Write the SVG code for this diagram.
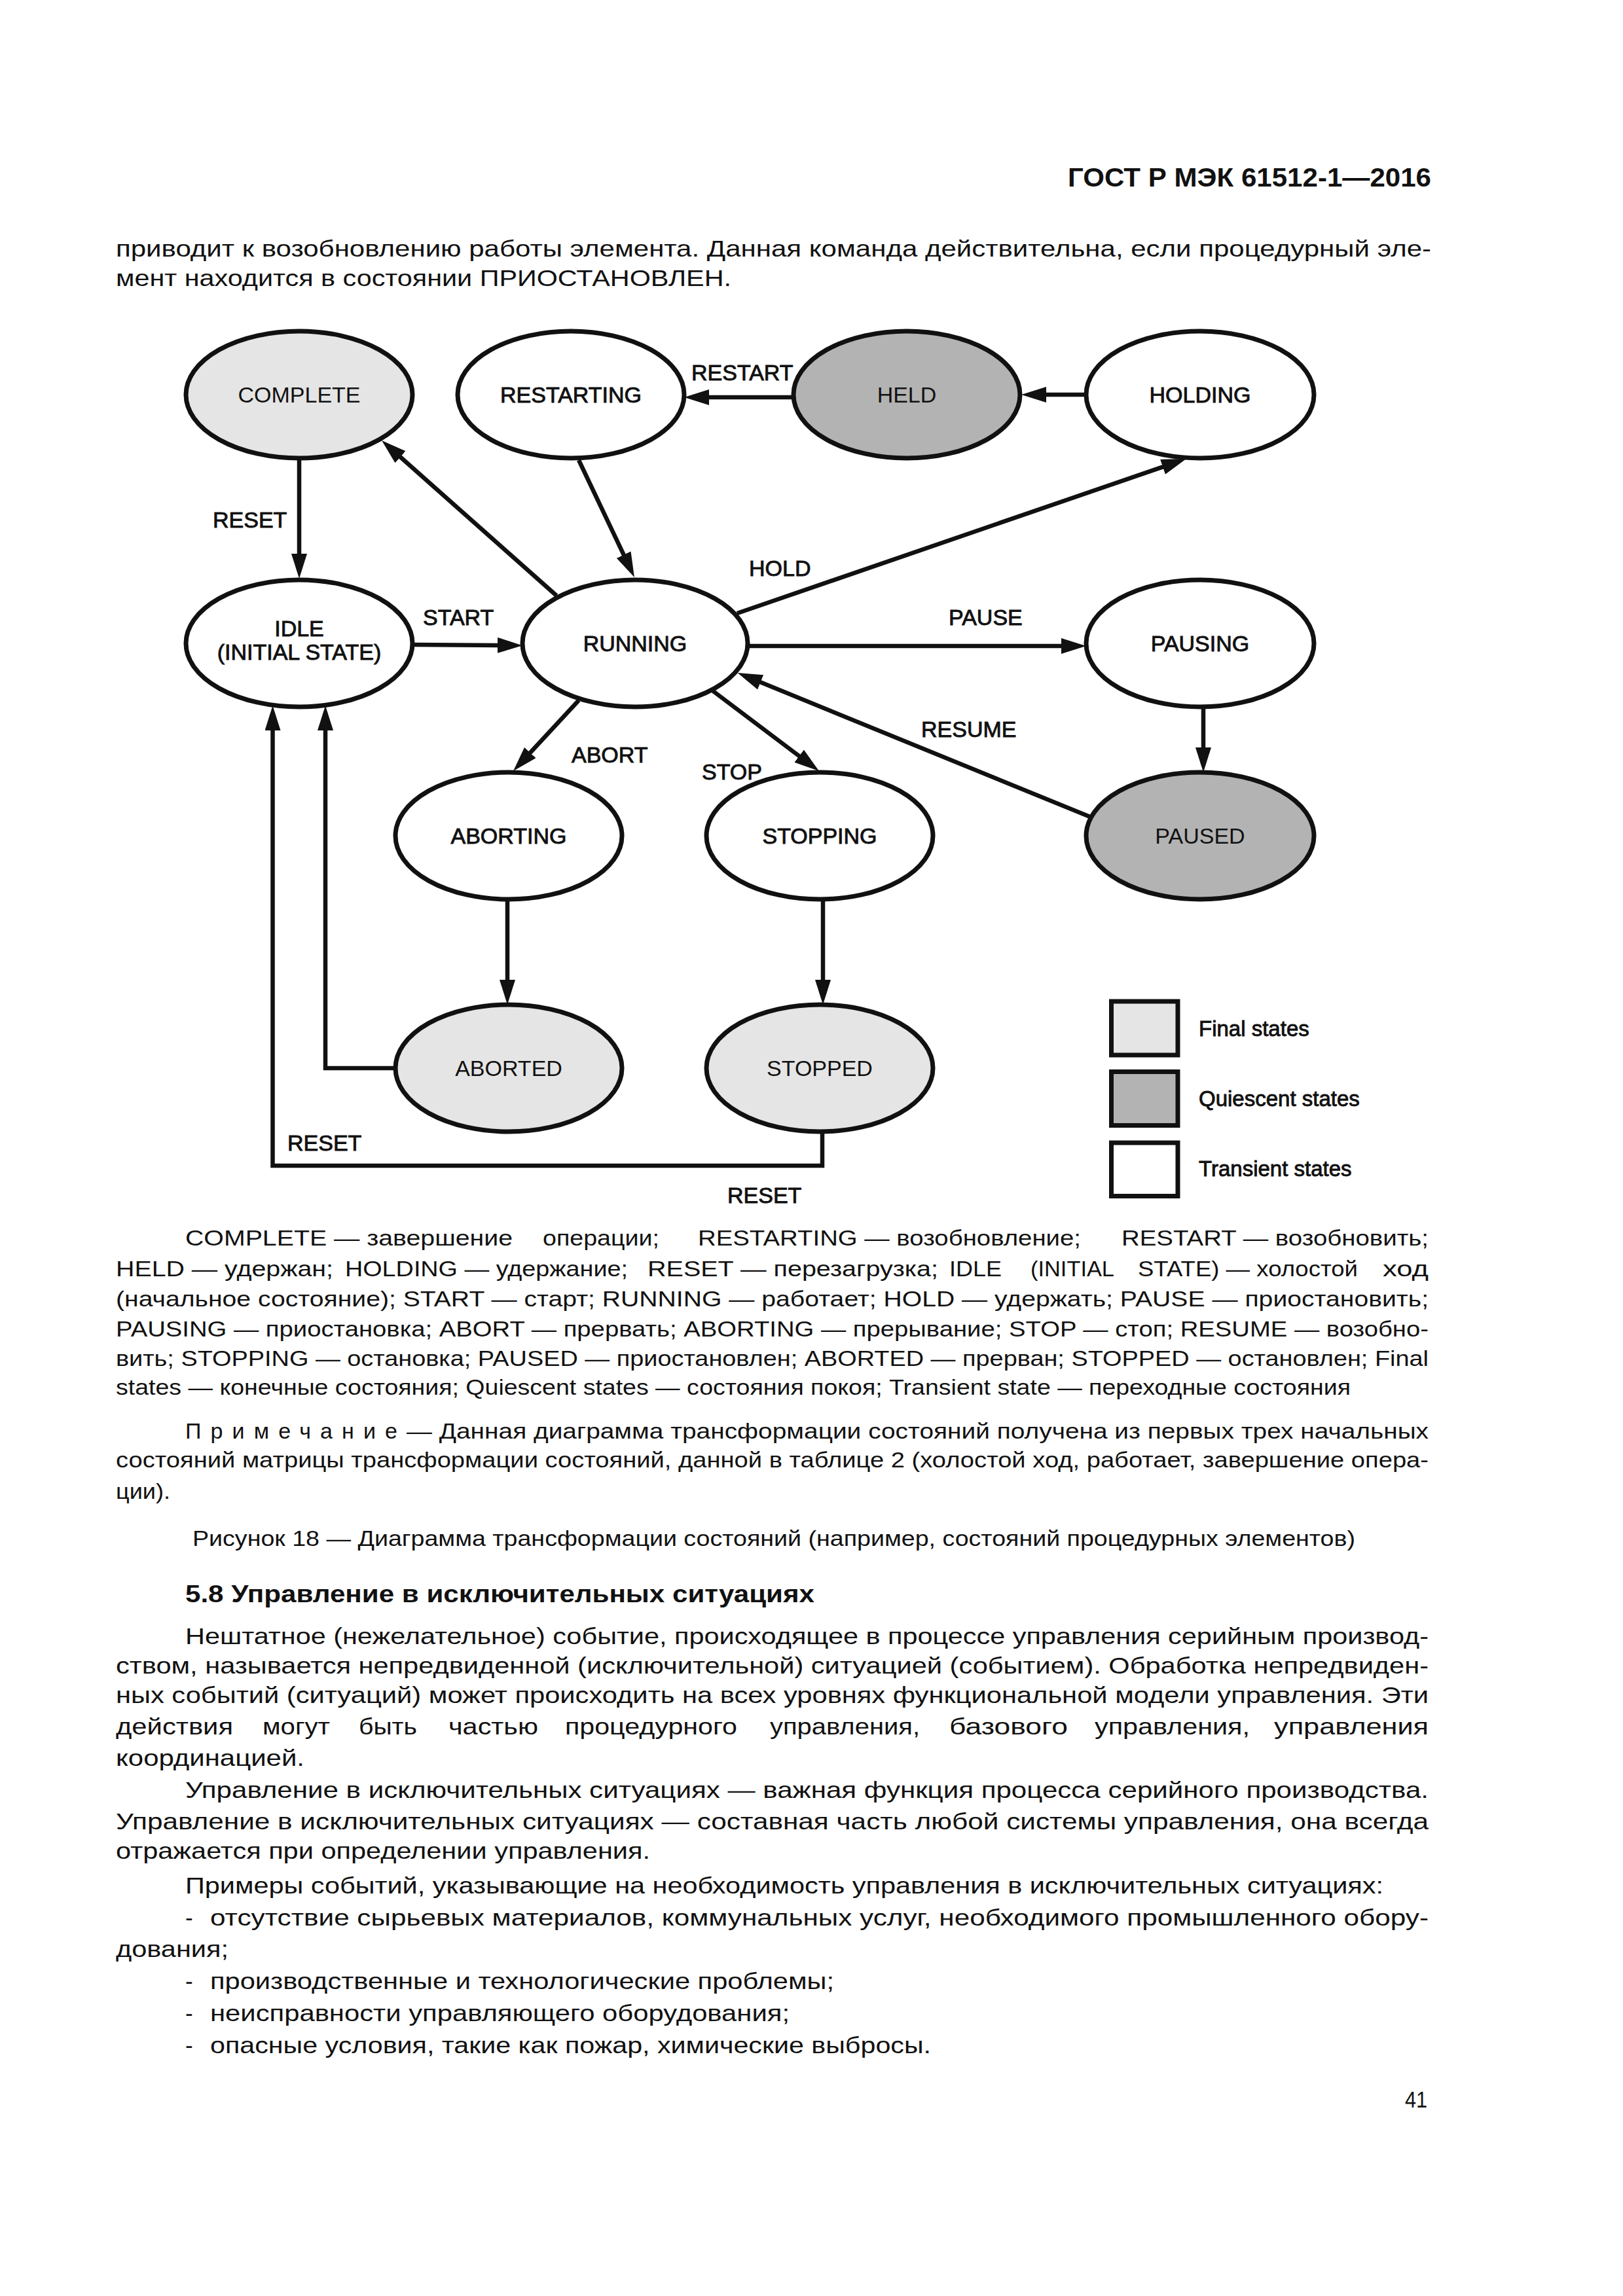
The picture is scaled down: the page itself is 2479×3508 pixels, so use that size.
<svg xmlns="http://www.w3.org/2000/svg" width="2479" height="3508" viewBox="0 0 2479 3508">
<style>
.bg{fill:#fff}
.st{stroke:#111;stroke-width:7}
.fin{fill:#e5e5e5}
.qui{fill:#b3b3b3}
.tra{fill:#fff}
.nt{font-family:"Liberation Sans",Arial,sans-serif;font-size:34px;fill:#111;text-anchor:middle}
.nb{stroke:#111;stroke-width:0.9}
.lb{font-family:"Liberation Sans",Arial,sans-serif;font-size:34px;fill:#111;stroke:#111;stroke-width:0.9}
.lg{font-family:"Liberation Sans",Arial,sans-serif;font-size:33px;fill:#111;stroke:#111;stroke-width:0.9}
.cn{fill:none;stroke:#111;stroke-width:6.5;stroke-linejoin:miter}
.tx{font-family:"Liberation Sans",Arial,sans-serif;font-size:35px;fill:#111}
.cp{font-family:"Liberation Sans",Arial,sans-serif;font-size:34px;fill:#111}
.hd{font-family:"Liberation Sans",Arial,sans-serif;font-size:40px;font-weight:bold;fill:#111}
.h2{font-family:"Liberation Sans",Arial,sans-serif;font-size:36px;font-weight:bold;fill:#111}
</style>
<defs>
<marker id="ah" viewBox="0 0 38 24" refX="18" refY="12" markerWidth="38" markerHeight="24" markerUnits="userSpaceOnUse" orient="auto">
<path d="M0,0 L38,12 L0,24 z" fill="#111"/>
</marker>
</defs>
<rect class="bg" x="0" y="0" width="2479" height="3508"/>

<!-- page header and text above -->
<text class="hd" x="1631" y="285" textLength="555" lengthAdjust="spacingAndGlyphs">ГОСТ Р МЭК  61512-1—2016</text>
<text class="tx" x="177" y="392" textLength="2009" lengthAdjust="spacingAndGlyphs">приводит к возобновлению работы элемента. Данная команда действительна, если процедурный эле-</text>
<text class="tx" x="177" y="437" textLength="940" lengthAdjust="spacingAndGlyphs">мент находится в состоянии ПРИОСТАНОВЛЕН.</text>

<!-- connectors -->
<g id="connectors">
<line class="cn" x1="457" y1="700" x2="457" y2="864" marker-end="url(#ah)"/>
<line class="cn" x1="630" y1="985" x2="778" y2="986" marker-end="url(#ah)"/>
<line class="cn" x1="850" y1="910" x2="598" y2="686.3" marker-end="url(#ah)"/>
<line class="cn" x1="884" y1="703" x2="960.4" y2="863.9" marker-end="url(#ah)"/>
<line class="cn" x1="1212" y1="607" x2="1065" y2="607" marker-end="url(#ah)"/>
<line class="cn" x1="1659" y1="603" x2="1580" y2="603" marker-end="url(#ah)"/>
<line class="cn" x1="1126" y1="937" x2="1793" y2="707.5" marker-end="url(#ah)"/>
<line class="cn" x1="1142" y1="987" x2="1639" y2="987" marker-end="url(#ah)"/>
<line class="cn" x1="1838" y1="1080" x2="1838" y2="1160" marker-end="url(#ah)"/>
<line class="cn" x1="1665" y1="1248" x2="1145" y2="1035.6" marker-end="url(#ah)"/>
<line class="cn" x1="1088" y1="1055" x2="1235" y2="1166" marker-end="url(#ah)"/>
<line class="cn" x1="884" y1="1070" x2="797.6" y2="1163.3" marker-end="url(#ah)"/>
<line class="cn" x1="775" y1="1375" x2="775" y2="1515" marker-end="url(#ah)"/>
<line class="cn" x1="1257" y1="1375" x2="1257" y2="1515" marker-end="url(#ah)"/>
<polyline class="cn" points="603,1632 497,1632 497,1098" marker-end="url(#ah)"/>
<polyline class="cn" points="1256,1730 1256,1781 416.5,1781 416.5,1098" marker-end="url(#ah)"/>
</g>

<!-- connector labels -->
<g id="labels">
<text class="lb" x="325" y="806">RESET</text>
<text class="lb" x="646" y="955">START</text>
<text class="lb" x="1056" y="581">RESTART</text>
<text class="lb" x="1144" y="880">HOLD</text>
<text class="lb" x="1449" y="955">PAUSE</text>
<text class="lb" x="1407" y="1126">RESUME</text>
<text class="lb" x="873" y="1165">ABORT</text>
<text class="lb" x="1072" y="1191">STOP</text>
<text class="lb" x="439" y="1758">RESET</text>
<text class="lb" x="1111" y="1838">RESET</text>
</g>

<!-- nodes -->
<g id="complete"><ellipse class="st fin" cx="457" cy="603" rx="173" ry="97"/><text class="nt" x="457" y="615">COMPLETE</text></g>
<g id="restarting"><ellipse class="st tra" cx="872" cy="603" rx="173" ry="97"/><text class="nt nb" x="872" y="615">RESTARTING</text></g>
<g id="held"><ellipse class="st qui" cx="1385" cy="603" rx="173" ry="97"/><text class="nt" x="1385" y="615">HELD</text></g>
<g id="holding"><ellipse class="st tra" cx="1833" cy="603" rx="174" ry="97"/><text class="nt nb" x="1833" y="615">HOLDING</text></g>
<g id="idle"><ellipse class="st tra" cx="457" cy="983" rx="173" ry="97"/><text class="nt nb" x="457" y="972">IDLE</text><text class="nt nb" x="457" y="1008">(INITIAL STATE)</text></g>
<g id="running"><ellipse class="st tra" cx="970" cy="983" rx="172" ry="97"/><text class="nt nb" x="970" y="995">RUNNING</text></g>
<g id="pausing"><ellipse class="st tra" cx="1833" cy="983" rx="174" ry="97"/><text class="nt nb" x="1833" y="995">PAUSING</text></g>
<g id="aborting"><ellipse class="st tra" cx="777" cy="1277" rx="173" ry="97"/><text class="nt nb" x="777" y="1289">ABORTING</text></g>
<g id="stopping"><ellipse class="st tra" cx="1252" cy="1277" rx="173" ry="97"/><text class="nt nb" x="1252" y="1289">STOPPING</text></g>
<g id="paused"><ellipse class="st qui" cx="1833" cy="1277" rx="174" ry="97"/><text class="nt" x="1833" y="1289">PAUSED</text></g>
<g id="aborted"><ellipse class="st fin" cx="777" cy="1632" rx="173" ry="97"/><text class="nt" x="777" y="1644">ABORTED</text></g>
<g id="stopped"><ellipse class="st fin" cx="1252" cy="1632" rx="173" ry="97"/><text class="nt" x="1252" y="1644">STOPPED</text></g>

<!-- legend -->
<g id="legend">
<rect class="st fin" x="1697.5" y="1530" width="101.5" height="82"/>
<rect class="st qui" x="1697.5" y="1637.5" width="101.5" height="82"/>
<rect class="st tra" x="1697.5" y="1746" width="101.5" height="81.5"/>
<text class="lg" x="1831" y="1583">Final states</text>
<text class="lg" x="1831" y="1690">Quiescent states</text>
<text class="lg" x="1831" y="1797">Transient states</text>
</g>

<!-- explanation -->
<g id="explanation">
<text class="cp" x="283" y="1903" textLength="500" lengthAdjust="spacingAndGlyphs">COMPLETE — завершение</text>
<text class="cp" x="829" y="1903" textLength="178" lengthAdjust="spacingAndGlyphs">операции;</text>
<text class="cp" x="1066" y="1903" textLength="585" lengthAdjust="spacingAndGlyphs">RESTARTING — возобновление;</text>
<text class="cp" x="1713" y="1903" textLength="469" lengthAdjust="spacingAndGlyphs">RESTART — возобновить;</text>
<text class="cp" x="177" y="1950" textLength="332" lengthAdjust="spacingAndGlyphs">HELD — удержан;</text>
<text class="cp" x="527" y="1950" textLength="432" lengthAdjust="spacingAndGlyphs">HOLDING — удержание;</text>
<text class="cp" x="989" y="1950" textLength="444" lengthAdjust="spacingAndGlyphs">RESET — перезагрузка;</text>
<text class="cp" x="1450" y="1950" textLength="80" lengthAdjust="spacingAndGlyphs">IDLE</text>
<text class="cp" x="1574" y="1950" textLength="128" lengthAdjust="spacingAndGlyphs">(INITIAL</text>
<text class="cp" x="1738" y="1950" textLength="336" lengthAdjust="spacingAndGlyphs">STATE) — холостой</text>
<text class="cp" x="2112" y="1950" textLength="70" lengthAdjust="spacingAndGlyphs">ход</text>
<text class="cp" x="177" y="1996" textLength="2005" lengthAdjust="spacingAndGlyphs">(начальное  состояние); START — старт; RUNNING — работает; HOLD — удержать; PAUSE — приостановить;</text>
<text class="cp" x="177" y="2042" textLength="2005" lengthAdjust="spacingAndGlyphs">PAUSING — приостановка; ABORT — прервать; ABORTING — прерывание; STOP — стоп; RESUME — возобно-</text>
<text class="cp" x="177" y="2087" textLength="2005" lengthAdjust="spacingAndGlyphs">вить; STOPPING — остановка; PAUSED — приостановлен; ABORTED — прерван; STOPPED — остановлен; Final</text>
<text class="cp" x="177" y="2131" textLength="1886" lengthAdjust="spacingAndGlyphs">states — конечные состояния; Quiescent states — состояния покоя; Transient state — переходные состояния</text>

<text class="cp" x="283" y="2198" textLength="324" lengthAdjust="spacing">Примечание</text>
<text class="cp" x="621" y="2198" textLength="1561" lengthAdjust="spacingAndGlyphs">— Данная диаграмма трансформации состояний получена из первых трех начальных</text>
<text class="cp" x="177" y="2242" textLength="2005" lengthAdjust="spacingAndGlyphs">состояний матрицы трансформации состояний, данной в таблице 2 (холостой ход, работает, завершение опера-</text>
<text class="cp" x="177" y="2290" textLength="83" lengthAdjust="spacingAndGlyphs">ции).</text>
<text class="cp" x="294" y="2362" textLength="1776" lengthAdjust="spacingAndGlyphs">Рисунок 18 — Диаграмма трансформации состояний (например, состояний процедурных элементов)</text>
</g>

<!-- section text -->
<g id="section">
<text class="h2" x="283" y="2448" textLength="961" lengthAdjust="spacingAndGlyphs">5.8  Управление в исключительных ситуациях</text>
<text class="tx" x="283" y="2512" textLength="1899" lengthAdjust="spacingAndGlyphs">Нештатное (нежелательное) событие, происходящее в процессе управления серийным производ-</text>
<text class="tx" x="177" y="2557" textLength="2005" lengthAdjust="spacingAndGlyphs">ством, называется непредвиденной (исключительной) ситуацией (событием). Обработка непредвиден-</text>
<text class="tx" x="177" y="2602" textLength="2005" lengthAdjust="spacingAndGlyphs">ных событий (ситуаций) может происходить на всех уровнях функциональной модели управления. Эти</text>
<text class="tx" x="177" y="2650" textLength="179" lengthAdjust="spacingAndGlyphs">действия</text>
<text class="tx" x="401" y="2650" textLength="103" lengthAdjust="spacingAndGlyphs">могут</text>
<text class="tx" x="548" y="2650" textLength="89" lengthAdjust="spacingAndGlyphs">быть</text>
<text class="tx" x="685" y="2650" textLength="137" lengthAdjust="spacingAndGlyphs">частью</text>
<text class="tx" x="863" y="2650" textLength="263" lengthAdjust="spacingAndGlyphs">процедурного</text>
<text class="tx" x="1176" y="2650" textLength="229" lengthAdjust="spacingAndGlyphs">управления,</text>
<text class="tx" x="1450" y="2650" textLength="181" lengthAdjust="spacingAndGlyphs">базового</text>
<text class="tx" x="1672" y="2650" textLength="237" lengthAdjust="spacingAndGlyphs">управления,</text>
<text class="tx" x="1946" y="2650" textLength="236" lengthAdjust="spacingAndGlyphs">управления</text>
<text class="tx" x="177" y="2698" textLength="288" lengthAdjust="spacingAndGlyphs">координацией.</text>
<text class="tx" x="283" y="2747" textLength="1899" lengthAdjust="spacingAndGlyphs">Управление в исключительных ситуациях — важная функция процесса серийного производства.</text>
<text class="tx" x="177" y="2795" textLength="2005" lengthAdjust="spacingAndGlyphs">Управление в исключительных ситуациях — составная часть любой системы управления, она всегда</text>
<text class="tx" x="177" y="2840" textLength="816" lengthAdjust="spacingAndGlyphs">отражается при определении управления.</text>
<text class="tx" x="283" y="2893" textLength="1830" lengthAdjust="spacingAndGlyphs">Примеры событий, указывающие на необходимость управления в исключительных ситуациях:</text>
<text class="tx" x="283" y="2942">-</text>
<text class="tx" x="321" y="2942" textLength="1861" lengthAdjust="spacingAndGlyphs">отсутствие сырьевых материалов, коммунальных услуг, необходимого промышленного обору-</text>
<text class="tx" x="177" y="2990" textLength="172" lengthAdjust="spacingAndGlyphs">дования;</text>
<text class="tx" x="283" y="3039">-</text>
<text class="tx" x="321" y="3039" textLength="953" lengthAdjust="spacingAndGlyphs">производственные и технологические проблемы;</text>
<text class="tx" x="283" y="3088">-</text>
<text class="tx" x="321" y="3088" textLength="885" lengthAdjust="spacingAndGlyphs">неисправности управляющего оборудования;</text>
<text class="tx" x="283" y="3137">-</text>
<text class="tx" x="321" y="3137" textLength="1101" lengthAdjust="spacingAndGlyphs">опасные условия, такие как пожар, химические выбросы.</text>
<text class="tx" x="2146" y="3220" textLength="34" lengthAdjust="spacingAndGlyphs">41</text>
</g>
</svg>
